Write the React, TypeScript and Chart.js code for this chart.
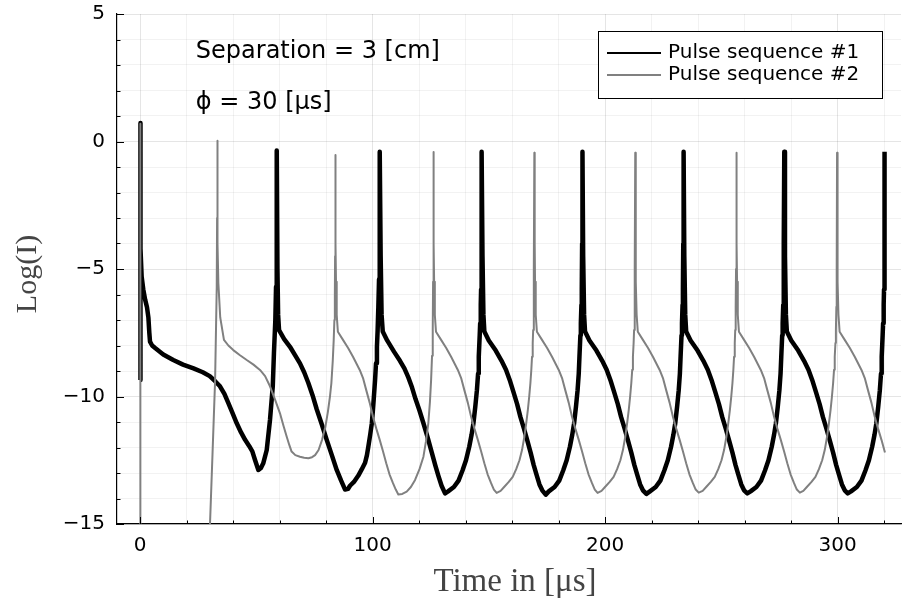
import React, { useEffect, useRef } from 'react';
import { Chart, registerables } from 'chart.js';

Chart.register(...registerables);

// ---- axes ----
const X_MIN = -9.9;
const X_MAX = 327.3;
const X_STEP = 20;
const X_MAJOR = 100;
const Y_MIN = -15;
const Y_MAX = 5;
const Y_STEP = 1;
const Y_MAJOR = 5;

const xTitle = 'Time in [μs]';
const yTitle = 'Log(I)';

// ---- legend / annotations ----
const seriesNames = ['Pulse sequence #1', 'Pulse sequence #2'];
const seriesColors = ['#000000', '#808080'];
const annotationTexts = ['Separation = 3 [cm]', 'ϕ = 30 [μs]'];
const annotationX = [24, 24];
const annotationY = [3.5, 1.5];

// ---- Pulse sequence #1 : [time µs, log(I)] ----
const pulse1: [number, number][] = [
  [0, -9.35], [0, 0.73], [0.4, -4.2], [0.7, -5.3], [1.4, -5.8], [2.2, -6.2], [3.0, -6.5], [3.6, -6.9],
  [4.0, -7.5], [4.3, -7.85], [5.2, -8.0], [6.5, -8.1], [10.0, -8.35], [14.3, -8.57], [18.5, -8.75],
  [23.0, -8.9], [27.0, -9.05], [30.0, -9.2], [32.3, -9.4], [34.4, -9.6], [36.3, -9.9], [38.0, -10.26],
  [39.8, -10.65], [41.6, -11.05], [43.4, -11.4], [45.2, -11.7], [47.0, -11.95], [48.3, -12.15],
  [49.5, -12.5], [50.9, -12.88], [52.0, -12.8], [53.0, -12.62], [54.5, -12.1], [55.9, -10.92],
  [57.1, -9.6], [57.6, -8.3], [58.2, -7.0], [58.5, -5.7], [58.8, -0.35],
  [59.1, -5.0], [59.4, -6.8], [59.8, -7.4], [62.0, -7.75], [64.5, -8.05], [66.8, -8.4], [68.8, -8.7],
  [70.6, -9.05], [72.4, -9.47], [74.2, -9.95], [76.0, -10.5], [78.2, -11.1], [80.3, -11.7],
  [82.5, -12.3], [84.6, -12.88], [86.5, -13.3], [88.2, -13.65], [89.5, -13.62], [90.3, -13.5],
  [92.0, -13.35], [93.9, -13.1], [95.4, -12.85], [96.8, -12.6], [97.6, -12.3], [98.2, -11.97],
  [99.0, -11.5], [99.7, -11.05], [100.2, -10.5], [100.6, -10.0], [101.1, -9.35], [101.5, -8.7],
  [101.9, -8.05], [102.2, -7.4], [102.5, -6.5], [102.8, -5.4], [103.0, -3.5], [103.2, -0.4],
  [103.5, -4.5], [103.9, -6.8], [104.4, -7.45], [106.3, -7.8], [109.3, -8.25], [111.8, -8.6],
  [113.7, -8.9], [115.4, -9.25], [117.0, -9.65], [118.5, -10.1], [120.2, -10.55], [121.9, -11.05],
  [123.7, -11.6], [125.5, -12.2], [127.0, -12.7], [128.3, -13.1], [129.7, -13.5], [131.2, -13.8],
  [132.5, -13.72], [135.0, -13.55], [137.0, -13.3], [138.7, -12.9], [140.2, -12.5], [141.6, -11.97],
  [142.6, -11.5], [143.4, -11.05], [144.2, -10.4], [144.9, -9.75], [145.4, -9.1], [145.7, -8.44],
  [146.1, -7.6], [146.3, -7.13], [146.55, -6.4], [146.7, -5.8], [146.85, -4.0], [147.0, -0.4],
  [147.3, -4.5], [147.7, -6.8], [148.1, -7.45], [150.0, -7.8], [153.0, -8.2], [155.5, -8.6],
  [157.4, -8.95], [159.0, -9.35], [160.7, -9.85], [162.2, -10.3], [163.6, -10.8], [165.1, -11.25],
  [166.5, -11.7], [168.0, -12.2], [169.3, -12.68], [170.5, -13.05], [171.8, -13.45], [173.0, -13.68],
  [174.5, -13.85], [175.8, -13.72], [178.3, -13.55], [180.3, -13.3], [182.0, -12.9], [183.5, -12.5],
  [184.9, -11.97], [185.9, -11.5], [186.7, -11.05], [187.5, -10.4], [188.2, -9.75], [188.7, -9.1],
  [189.0, -8.44], [189.4, -7.6], [189.6, -7.13], [189.85, -6.4], [190.0, -5.8], [190.15, -4.0], [190.3, -0.4],
  [190.6, -4.5], [191.0, -6.8], [191.4, -7.45], [193.3, -7.8], [196.3, -8.2], [198.8, -8.6],
  [200.7, -8.95], [202.3, -9.35], [204.0, -9.85], [205.5, -10.3], [206.9, -10.8], [208.4, -11.25],
  [209.8, -11.7], [211.3, -12.2], [212.6, -12.68], [213.8, -13.05], [215.1, -13.45], [216.3, -13.68],
  [217.8, -13.82], [219.3, -13.72], [221.8, -13.55], [223.8, -13.3], [225.5, -12.9], [227.0, -12.5],
  [228.4, -11.97], [229.4, -11.5], [230.2, -11.05], [231.0, -10.4], [231.7, -9.75], [232.2, -9.1],
  [232.5, -8.44], [232.9, -7.6], [233.1, -7.13], [233.35, -6.4], [233.5, -5.8], [233.65, -4.0], [233.8, -0.4],
  [234.1, -4.5], [234.5, -6.8], [234.9, -7.45], [236.8, -7.8], [239.8, -8.2], [242.3, -8.6],
  [244.2, -8.95], [245.8, -9.35], [247.5, -9.85], [249.0, -10.3], [250.4, -10.8], [251.9, -11.25],
  [253.3, -11.7], [254.8, -12.2], [256.1, -12.68], [257.3, -13.05], [258.6, -13.45], [259.8, -13.68],
  [261.2, -13.8], [262.6, -13.72], [265.1, -13.55], [267.1, -13.3], [268.8, -12.9], [270.3, -12.5],
  [271.7, -11.97], [272.7, -11.5], [273.5, -11.05], [274.3, -10.4], [275.0, -9.75], [275.5, -9.1],
  [275.8, -8.44], [276.2, -7.6], [276.4, -7.13], [276.65, -6.4], [276.8, -5.8], [276.95, -4.0], [277.1, -0.4],
  [277.4, -4.5], [277.8, -6.8], [278.2, -7.45], [280.1, -7.8], [283.1, -8.2], [285.6, -8.6],
  [287.5, -8.95], [289.1, -9.35], [290.8, -9.85], [292.3, -10.3], [293.7, -10.8], [295.2, -11.25],
  [296.6, -11.7], [298.1, -12.2], [299.4, -12.68], [300.6, -13.05], [301.9, -13.45], [303.1, -13.68],
  [304.4, -13.8], [305.8, -13.72], [308.3, -13.55], [310.3, -13.3], [312.0, -12.9], [313.5, -12.5],
  [314.9, -11.97], [315.9, -11.5], [316.7, -11.05], [317.5, -10.4], [318.2, -9.75], [318.7, -9.1],
  [319.0, -8.44], [319.4, -7.6], [319.6, -7.13], [319.85, -6.4], [320.0, -5.8], [320.15, -4.0], [320.3, -0.4],
];

// ---- Pulse sequence #2 : [time µs, log(I)] ----
const pulse2: [number, number][] = [
  [0, -30], [0, 0.7], [0.3, -30], [28.0, -21.0], [30.1, -15.0], [31.2, -12.2], [32.3, -9.35],
  [33.0, -5.7], [33.15, -3.0], [33.25, 0.03],
  [33.4, -4.0], [33.7, -5.56], [34.5, -6.9], [36.1, -7.78], [38.0, -8.0], [40.1, -8.18], [43.0, -8.38],
  [45.9, -8.57], [48.8, -8.75], [51.6, -8.96], [53.8, -9.2], [55.9, -9.6], [58.0, -10.1], [60.2, -10.66],
  [61.7, -11.15], [63.1, -11.58], [64.2, -11.9], [65.2, -12.16], [66.8, -12.3], [68.8, -12.36],
  [70.6, -12.4], [72.4, -12.42], [74.0, -12.38], [75.3, -12.3], [76.8, -12.1], [78.3, -11.7],
  [79.7, -11.2], [80.8, -10.6], [81.7, -10.0], [82.3, -9.48], [82.9, -8.6], [83.3, -7.8], [83.6, -7.0],
  [83.8, -6.0], [83.9, -4.5], [84.0, -0.53],
  [84.15, -4.0], [84.3, -5.5], [84.6, -6.8], [85.1, -7.46], [87.3, -7.78], [89.5, -8.1], [91.6, -8.44],
  [94.5, -8.96], [96.0, -9.3], [97.3, -9.75], [98.8, -10.25], [100.2, -10.79], [101.6, -11.25],
  [103.1, -11.7], [104.5, -12.15], [105.9, -12.62], [107.3, -13.05], [108.8, -13.4], [110.0, -13.65],
  [111.1, -13.84], [112.8, -13.82], [114.7, -13.73], [116.5, -13.55], [118.3, -13.27], [120.2, -12.85],
  [121.9, -12.36], [123.0, -11.75], [124.0, -11.05], [124.7, -10.2], [125.2, -9.35], [125.6, -8.4],
  [125.9, -7.4], [126.05, -5.5], [126.2, -0.41],
  [126.35, -4.0], [126.5, -5.5], [126.8, -6.8], [127.3, -7.46], [129.5, -7.78], [131.7, -8.1],
  [133.8, -8.44], [136.7, -8.96], [138.2, -9.3], [139.5, -9.75], [141.0, -10.25], [142.4, -10.79],
  [143.8, -11.25], [145.3, -11.7], [146.7, -12.15], [148.1, -12.62], [149.5, -13.05], [151.0, -13.4],
  [152.2, -13.65], [153.4, -13.78], [155.1, -13.7], [156.7, -13.54], [158.6, -13.35], [160.3, -13.15],
  [161.8, -12.85], [163.2, -12.5], [164.3, -12.1], [165.3, -11.58], [166.1, -11.05], [166.8, -10.53],
  [167.4, -10.0], [167.9, -9.48], [168.3, -8.95], [168.6, -8.44], [168.9, -7.9], [169.1, -7.39],
  [169.3, -6.48], [169.45, -5.0], [169.6, -0.44],
  [169.75, -4.0], [169.9, -5.5], [170.2, -6.8], [170.7, -7.46], [172.9, -7.78], [175.1, -8.1],
  [177.2, -8.44], [180.1, -8.96], [181.6, -9.3], [182.9, -9.75], [184.4, -10.25], [185.8, -10.79],
  [187.2, -11.25], [188.7, -11.7], [190.1, -12.15], [191.5, -12.62], [192.9, -13.05], [194.4, -13.4],
  [195.6, -13.65], [196.8, -13.78], [198.5, -13.7], [200.1, -13.54], [202.0, -13.35], [203.7, -13.15],
  [205.2, -12.85], [206.6, -12.5], [207.7, -12.1], [208.7, -11.58], [209.5, -11.05], [210.2, -10.53],
  [210.8, -10.0], [211.3, -9.48], [211.7, -8.95], [212.0, -8.44], [212.3, -7.9], [212.5, -7.39],
  [212.7, -6.48], [212.85, -5.0], [213.0, -0.44],
  [213.15, -4.0], [213.3, -5.5], [213.6, -6.8], [214.1, -7.46], [216.3, -7.78], [218.5, -8.1],
  [220.6, -8.44], [223.5, -8.96], [225.0, -9.3], [226.3, -9.75], [227.8, -10.25], [229.2, -10.79],
  [230.6, -11.25], [232.1, -11.7], [233.5, -12.15], [234.9, -12.62], [236.3, -13.05], [237.8, -13.4],
  [239.0, -13.65], [240.3, -13.77], [242.0, -13.7], [243.6, -13.54], [245.5, -13.35], [247.2, -13.15],
  [248.7, -12.85], [250.1, -12.5], [251.2, -12.1], [252.2, -11.58], [253.0, -11.05], [253.7, -10.53],
  [254.3, -10.0], [254.8, -9.48], [255.2, -8.95], [255.5, -8.44], [255.8, -7.9], [256.0, -7.39],
  [256.2, -6.48], [256.35, -5.0], [256.5, -0.44],
  [256.65, -4.0], [256.8, -5.5], [257.1, -6.8], [257.6, -7.46], [259.8, -7.78], [262.0, -8.1],
  [264.1, -8.44], [267.0, -8.96], [268.5, -9.3], [269.8, -9.75], [271.3, -10.25], [272.7, -10.79],
  [274.1, -11.25], [275.6, -11.7], [277.0, -12.15], [278.4, -12.62], [279.8, -13.05], [281.3, -13.4],
  [282.5, -13.65], [283.8, -13.77], [285.3, -13.7], [286.9, -13.54], [288.8, -13.35], [290.5, -13.15],
  [292.0, -12.85], [293.4, -12.5], [294.5, -12.1], [295.5, -11.58], [296.3, -11.05], [297.0, -10.53],
  [297.6, -10.0], [298.1, -9.48], [298.5, -8.95], [298.8, -8.44], [299.1, -7.9], [299.3, -7.39],
  [299.5, -6.48], [299.65, -5.0], [299.8, -0.44],
  [299.95, -4.0], [300.1, -5.5], [300.4, -6.8], [300.9, -7.46], [303.1, -7.78], [305.3, -8.1],
  [307.4, -8.44], [310.3, -8.96], [311.8, -9.3], [313.1, -9.75], [314.6, -10.25], [316.0, -10.79],
  [317.4, -11.25], [318.9, -11.7], [320.4, -12.2],
];

const TICK_FONT = 'DejaVu Sans';
const TITLE_FONT = '"Liberation Serif", "Times New Roman", serif';

const fmtNum = (v: number) => (v < 0 ? '\u2212' + Math.abs(v) : String(v));

const decorPlugin = {
  id: 'decor',
  afterDraw(chart: any) {
    const { ctx, chartArea: a, scales } = chart;
    const xs = scales.x;
    const ys = scales.y;
    ctx.save();

    // inward tick marks
    ctx.strokeStyle = '#000';
    ctx.lineWidth = 1;
    for (const t of xs.ticks) {
      const px = Math.round(xs.getPixelForValue(t.value)) + 0.5;
      const len = t.value % X_MAJOR === 0 ? 7 : 3.5;
      ctx.beginPath();
      ctx.moveTo(px, a.bottom);
      ctx.lineTo(px, a.bottom - len);
      ctx.stroke();
    }
    for (const t of ys.ticks) {
      const py = Math.round(ys.getPixelForValue(t.value)) + 0.5;
      const len = t.value % Y_MAJOR === 0 ? 7 : 3.5;
      ctx.beginPath();
      ctx.moveTo(a.left, py);
      ctx.lineTo(a.left + len, py);
      ctx.stroke();
    }

    // annotations
    ctx.fillStyle = '#000';
    ctx.font = `24px "${TICK_FONT}"`;
    ctx.textAlign = 'left';
    ctx.textBaseline = 'middle';
    annotationTexts.forEach((txt, i) => {
      ctx.fillText(txt, xs.getPixelForValue(annotationX[i]), ys.getPixelForValue(annotationY[i]));
    });

    // legend
    const boxR = a.right - 19;
    const boxL = boxR - 284;
    const boxT = a.top + 17;
    const boxH = 67;
    ctx.fillStyle = '#ffffff';
    ctx.fillRect(boxL, boxT, boxR - boxL, boxH);
    ctx.strokeStyle = '#000';
    ctx.lineWidth = 1;
    ctx.strokeRect(Math.round(boxL) + 0.5, Math.round(boxT) + 0.5, Math.round(boxR - boxL), boxH);
    ctx.font = `20px "${TICK_FONT}"`;
    ctx.textBaseline = 'middle';
    chart.data.datasets.forEach((ds: any, i: number) => {
      const ly = boxT + 22 + i * 22;
      ctx.strokeStyle = ds.borderColor;
      ctx.lineWidth = 2;
      ctx.beginPath();
      ctx.moveTo(boxL + 9, ly);
      ctx.lineTo(boxL + 63, ly);
      ctx.stroke();
      ctx.fillStyle = '#000';
      ctx.fillText(ds.label, boxL + 70, ly);
    });

    // axis titles
    ctx.fillStyle = '#444444';
    ctx.textAlign = 'center';
    ctx.textBaseline = 'alphabetic';
    ctx.font = `33px ${TITLE_FONT}`;
    ctx.fillText(xTitle, (a.left + a.right) / 2 + 6, a.bottom + 67);
    ctx.font = `30px ${TITLE_FONT}`;
    ctx.translate(36, (a.top + a.bottom) / 2 + 5);
    ctx.rotate(-Math.PI / 2);
    ctx.fillText(yTitle, 0, 0);

    ctx.restore();
  },
};

export default function App() {
  const ref = useRef<HTMLCanvasElement>(null);

  useEffect(() => {
    const canvas = ref.current;
    if (!canvas) return;
    const chart = new Chart(canvas, {
      type: 'line',
      data: {
        datasets: [
          {
            label: seriesNames[0],
            data: pulse1.map(([x, y]) => ({ x, y })),
            borderColor: seriesColors[0],
            borderWidth: 4.5,
            borderJoinStyle: 'round',
            pointRadius: 0,
            tension: 0,
            fill: false,
            order: 2,
          },
          {
            label: seriesNames[1],
            data: pulse2.map(([x, y]) => ({ x, y })),
            borderColor: seriesColors[1],
            borderWidth: 2,
            borderJoinStyle: 'round',
            pointRadius: 0,
            tension: 0,
            fill: false,
            order: 1,
          },
        ],
      },
      options: {
        animation: false,
        responsive: false,
        devicePixelRatio: 1,
        events: [],
        layout: { padding: { left: 0, top: 14, right: 1, bottom: 0 } },
        plugins: { legend: { display: false }, tooltip: { enabled: false } },
        scales: {
          x: {
            type: 'linear',
            min: X_MIN,
            max: X_MAX,
            afterFit: (s: any) => { s.height = 85; },
            ticks: {
              stepSize: X_STEP,
              maxTicksLimit: 1000,
              autoSkip: false,
              includeBounds: false,
              maxRotation: 0,
              minRotation: 0,
              padding: 10,
              color: '#000',
              font: { family: TICK_FONT, size: 20 },
              callback: (v: any) => (Number(v) % X_MAJOR === 0 ? fmtNum(Number(v)) : ''),
            },
            grid: {
              drawTicks: false,
              lineWidth: 1,
              color: (c: any) => (c.tick && c.tick.value % X_MAJOR === 0 ? 'rgba(0,0,0,0.1)' : 'rgba(0,0,0,0.05)'),
            },
            border: { display: true, color: '#000', width: 1.2 },
          },
          y: {
            type: 'linear',
            min: Y_MIN,
            max: Y_MAX,
            afterFit: (s: any) => { s.width = 117; },
            ticks: {
              stepSize: Y_STEP,
              maxTicksLimit: 1000,
              autoSkip: false,
              includeBounds: false,
              padding: 12,
              color: '#000',
              font: { family: TICK_FONT, size: 20, lineHeight: 0.1 },
              callback: (v: any) => (Number(v) % Y_MAJOR === 0 ? fmtNum(Number(v)) : ''),
            },
            grid: {
              drawTicks: false,
              lineWidth: 1,
              color: (c: any) => (c.tick && c.tick.value % Y_MAJOR === 0 ? 'rgba(0,0,0,0.1)' : 'rgba(0,0,0,0.05)'),
            },
            border: { display: true, color: '#000', width: 1.2 },
          },
        },
      },
      plugins: [decorPlugin],
    } as any);
    return () => chart.destroy();
  }, []);

  return (
    <canvas
      ref={ref}
      width={902}
      height={609}
      style={{ position: 'fixed', left: 0, top: 0, display: 'block' }}
    />
  );
}
